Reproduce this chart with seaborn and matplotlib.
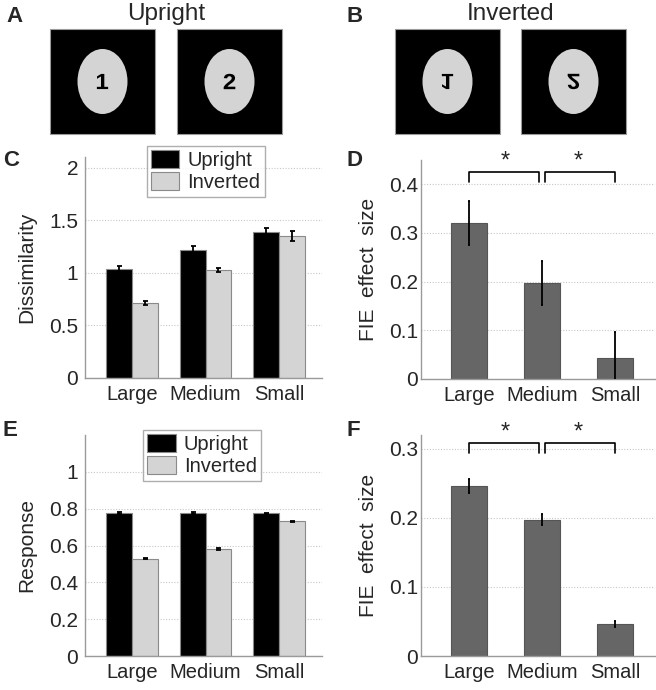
import matplotlib
matplotlib.use("Agg")
import matplotlib.pyplot as plt
import matplotlib.ticker as mticker
from matplotlib.patches import Rectangle, Ellipse, PathPatch
from matplotlib.textpath import TextPath
from matplotlib.font_manager import FontProperties
from matplotlib.transforms import Affine2D
import pandas as pd
import seaborn as sns

sns.set_style("white")
plt.rcParams["font.family"] = ["Liberation Sans", "DejaVu Sans"]

# ── data ─────────────────────────────────────────────────────────────────────
SIZES = ["Large", "Medium", "Small"]
ORIENT = ["Upright", "Inverted"]

# C: dissimilarity
dis_upright = [1.035, 1.215, 1.385]
dis_upright_err = [0.03, 0.04, 0.04]
dis_inverted = [0.71, 1.025, 1.35]
dis_inverted_err = [0.02, 0.02, 0.045]

# D: FIE effect size (dissimilarity)
fie_dis = [0.32, 0.197, 0.043]
fie_dis_err = [0.045, 0.045, 0.054]

# E: response
resp_upright = [0.775, 0.778, 0.775]
resp_upright_err = [0.005, 0.005, 0.004]
resp_inverted = [0.528, 0.582, 0.731]
resp_inverted_err = [0.004, 0.004, 0.004]

# F: FIE effect size (response)
fie_resp = [0.246, 0.197, 0.046]
fie_resp_err = [0.01, 0.008, 0.004]

# significance brackets: (from, to) pairs and bracket top/bottom levels
SIG_PAIRS = [(0, 1), (1, 2)]
D_BRACKET = (0.425, 0.404)
F_BRACKET = (0.308, 0.294)

STIM_LABELS = ["1", "2"]

BLACK = "#000000"
LIGHT = "#d4d4d4"
MID = "#666666"
SPINE = "#9a9a9a"
FS = 15


def style_axes(ax, ylim, yticks, ylabel, labelpad, tickpad):
    ax.set_ylim(*ylim)
    ax.set_yticks(yticks)
    ax.yaxis.set_major_formatter(mticker.FormatStrFormatter("%g"))
    ax.set_xlabel("")
    ax.set_ylabel(ylabel, fontsize=FS, labelpad=labelpad)
    for s in ["top", "right"]:
        ax.spines[s].set_visible(False)
    for s in ["left", "bottom"]:
        ax.spines[s].set_color(SPINE)
        ax.spines[s].set_linewidth(1.0)
    ax.tick_params(axis="y", length=0, labelsize=FS, pad=tickpad)
    ax.tick_params(axis="x", length=0, labelsize=FS - 0.5, pad=5)
    ax.yaxis.grid(True, linestyle=(0, (1, 1.5)), color="#c8c8c8", linewidth=0.8)
    ax.set_axisbelow(True)


def add_err(ax, errs, capsize):
    for cont, err in zip(ax.containers, errs):
        xs = [b.get_x() + b.get_width() / 2 for b in cont]
        ys = [b.get_height() for b in cont]
        ax.errorbar(xs, ys, yerr=err, fmt="none", ecolor="black",
                    elinewidth=1.3, capsize=capsize, capthick=1.3, zorder=5)


def grouped(ax, up, inv, up_err, inv_err, legend_anchor):
    df = pd.DataFrame({
        "size": SIZES * 2,
        "orient": [ORIENT[0]] * 3 + [ORIENT[1]] * 3,
        "value": list(up) + list(inv),
    })
    sns.barplot(data=df, x="size", y="value", hue="orient", order=SIZES,
                hue_order=ORIENT, palette=[BLACK, LIGHT], width=0.7,
                saturation=1, errorbar=None, edgecolor="#8a8a8a",
                linewidth=0.8, ax=ax)
    add_err(ax, [up_err, inv_err], capsize=1.8)
    ax.set_xlim(-0.64, 2.585)
    leg = ax.legend(loc="upper center", bbox_to_anchor=legend_anchor,
                    fontsize=FS - 0.5, frameon=True, fancybox=False,
                    handlelength=1.4, handleheight=1.0, handletextpad=0.4,
                    labelspacing=0.1, borderpad=0.22, borderaxespad=0)
    leg.get_frame().set_edgecolor(SPINE)
    leg.get_frame().set_linewidth(1.0)


def single(ax, vals, errs, bracket):
    sns.barplot(x=SIZES, y=vals, color=MID, width=0.5, saturation=1,
                errorbar=None, edgecolor="#555555", linewidth=0.8, ax=ax)
    add_err(ax, [errs], capsize=1.0)
    ax.set_xlim(-0.66, 2.55)
    top, low = bracket
    for i, j in SIG_PAIRS:
        gap = 0.04
        x0 = i + (gap if i > 0 else 0)
        x1 = j - (gap if j < 2 else 0)
        ax.plot([x0, x0, x1, x1], [low, top, top, low], color="black",
                lw=1.2, clip_on=False, zorder=6)
        ax.text((i + j) / 2, top, "*", ha="center", va="bottom",
                fontsize=17, clip_on=False)


def stim_digit(ax, label, cx, cy, flipped):
    # axes y runs downward, so an unflipped glyph needs a y mirror
    tp = TextPath((0, 0), label, size=22,
                  prop=FontProperties(family="Liberation Sans", weight="bold"))
    ext = tp.get_extents()
    mx, my = (ext.x0 + ext.x1) / 2, (ext.y0 + ext.y1) / 2
    sy = 1 if flipped else -1
    tr = Affine2D().translate(-mx, -my).scale(1.1, sy).translate(cx, cy)
    ax.add_patch(PathPatch(tr.transform_path(tp), facecolor="black",
                           edgecolor="none"))


fig = plt.figure(figsize=(6.56, 6.9), dpi=100)

# ── A / B stimuli ────────────────────────────────────────────────────────────
ax_s = fig.add_axes([0, 1 - 150 / 690, 1, 150 / 690])
ax_s.set_xlim(0, 656)
ax_s.set_ylim(150, 0)
ax_s.axis("off")
stim_left = [[50, 177], [395, 521]]
for panel, lefts in enumerate(stim_left):
    for k, x0 in enumerate(lefts):
        ax_s.add_patch(Rectangle((x0, 29), 105, 105, facecolor="black",
                                 edgecolor="#9a9a9a", lw=0.8))
        cx, cy = x0 + 52.5, 81.5
        ax_s.add_patch(Ellipse((cx, cy), 50, 65, facecolor=LIGHT,
                               edgecolor="none"))
        stim_digit(ax_s, STIM_LABELS[k], cx, cy, flipped=(panel == 1))
ax_s.text(166, 14, ORIENT[0], ha="center", va="center", fontsize=17.5)
ax_s.text(511, 14, ORIENT[1], ha="center", va="center", fontsize=17.5)

# ── C / D / E / F ────────────────────────────────────────────────────────────
axC = fig.add_axes([85 / 656, 1 - 378 / 690, 237 / 656, 221 / 690])
grouped(axC, dis_upright, dis_inverted, dis_upright_err, dis_inverted_err,
        (0.51, 1.05))
style_axes(axC, (0, 2.1), [0, 0.5, 1, 1.5, 2], "Dissimilarity", 9, 5)

axD = fig.add_axes([421 / 656, 1 - 379 / 690, 234 / 656, 219 / 690])
single(axD, fie_dis, fie_dis_err, D_BRACKET)
style_axes(axD, (0, 0.45), [0, 0.1, 0.2, 0.3, 0.4], "FIE  effect  size", 8, 2)

axE = fig.add_axes([85 / 656, 1 - 656 / 690, 237 / 656, 221 / 690])
grouped(axE, resp_upright, resp_inverted, resp_upright_err, resp_inverted_err,
        (0.494, 1.023))
style_axes(axE, (0, 1.2), [0, 0.2, 0.4, 0.6, 0.8, 1], "Response", 9, 5)

axF = fig.add_axes([421 / 656, 1 - 656 / 690, 234 / 656, 221 / 690])
single(axF, fie_resp, fie_resp_err, F_BRACKET)
style_axes(axF, (0, 0.32), [0, 0.1, 0.2, 0.3], "FIE  effect  size", 8, 2)

# panel letters
for letter, (x, y) in zip("ABCDEF", [(6, 6), (347, 6), (3, 150),
                                     (347, 150), (3, 420), (347, 420)]):
    fig.text(x / 656, 1 - y / 690, letter, fontsize=16, fontweight="bold",
             ha="left", va="top")

fig.savefig("out.png", dpi=100)
